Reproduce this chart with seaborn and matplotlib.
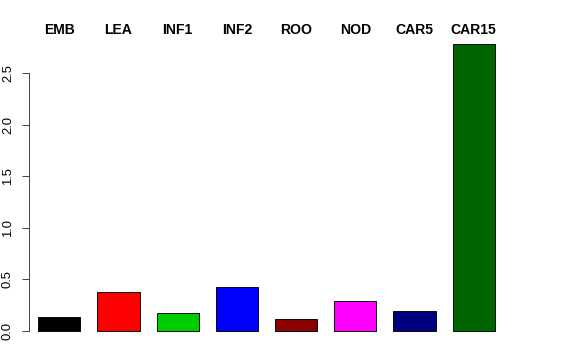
import matplotlib
matplotlib.use("Agg")
import matplotlib.pyplot as plt
import matplotlib.transforms as mtransforms
import seaborn as sns
import pandas as pd

categories = ["EMB", "LEA", "INF1", "INF2", "ROO", "NOD", "CAR5", "CAR15"]
values = [0.133, 0.379, 0.172, 0.43, 0.12, 0.288, 0.197, 2.79]
colors = ["#000000", "#FF0000", "#00CD00", "#0000FF", "#8B0000", "#FF00FF", "#000080", "#006400"]
yticks = [0.0, 0.5, 1.0, 1.5, 2.0, 2.5]

sns.set_style("white")
plt.rcParams["font.family"] = ["Liberation Sans", "DejaVu Sans"]
plt.rcParams["text.color"] = "black"
plt.rcParams["ytick.color"] = "black"

df = pd.DataFrame({"cat": categories, "val": values})

fig = plt.figure(figsize=(8, 5), dpi=72)
W, H = 576, 360
left_px, right_px = 29, 503.3
top_px, bot_px = 32.3, 342.3
ax = fig.add_axes([left_px / W, (H - bot_px) / H, (right_px - left_px) / W, (bot_px - top_px) / H])

sns.barplot(data=df, x="cat", y="val", hue="cat", palette=colors, legend=False,
            width=0.71, edgecolor="black", linewidth=0.9, saturation=1, ax=ax)

ax.set_xlim(-0.512, 7.5)
ax.set_ylim(-0.11, 2.90)
ax.set_xlabel("")
ax.set_ylabel("")
ax.set_xticks([])
for s in ["top", "right", "bottom"]:
    ax.spines[s].set_visible(False)
ax.spines["left"].set_bounds(0, 2.5)
ax.spines["left"].set_color("#333333")
ax.spines["left"].set_linewidth(0.9)
ax.set_yticks(yticks)
ax.set_yticklabels([f"{v:.1f}" for v in yticks], rotation=90, va="center", fontsize=13, color="black")
ax.tick_params(axis="y", left=True, length=7, width=0.9, color="#333333", pad=8)

trans = mtransforms.blended_transform_factory(ax.transData, fig.transFigure)
for i, c in enumerate(categories):
    ax.text(i, 1 - 34 / H, c, transform=trans, ha="center", va="baseline",
            fontsize=14, fontweight="bold", color="black")

fig.savefig("out.png", dpi=72)
